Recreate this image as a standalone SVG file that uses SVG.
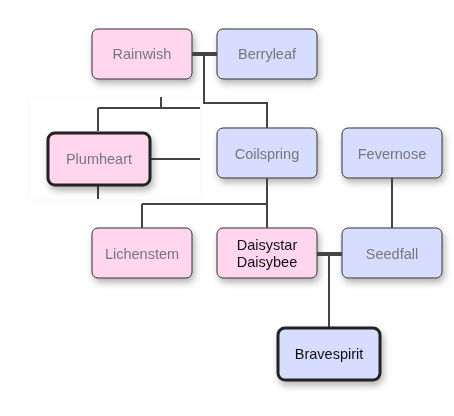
<svg xmlns="http://www.w3.org/2000/svg" width="454" height="416" viewBox="0 0 454 416">
<defs>
<filter id="sh" x="-20%" y="-20%" width="150%" height="160%">
<feDropShadow dx="2" dy="4" stdDeviation="3.5" flood-color="#000" flood-opacity="0.3"/>
</filter>
<filter id="sh2" x="-20%" y="-20%" width="140%" height="140%">
<feDropShadow dx="0" dy="1" stdDeviation="3" flood-color="#000" flood-opacity="0.035"/>
</filter>
</defs>
<style>
.node rect{stroke:#333;stroke-width:1}
.f{fill:#ffd6ee}
.m{fill:#d6ddff}
.bold rect{stroke:#222;stroke-width:3}
text{font-family:"Liberation Sans",Arial,sans-serif;font-size:14.5px;text-anchor:middle;fill:#777}
.dark text{fill:#111}
.links path{fill:none;stroke:#444;stroke-width:2}
.links .cpl{stroke-width:4}
</style>
<rect width="454" height="416" fill="#fff"/>
<g id="Rainwish" class="node" filter="url(#sh)"><rect class="f" x="92" y="29" width="100" height="50" rx="6"/><text x="142" y="59">Rainwish</text></g>
<g id="Berryleaf" class="node" filter="url(#sh)"><rect class="m" x="217" y="29" width="100" height="50" rx="6"/><text x="267" y="59">Berryleaf</text></g>
<rect id="patch" x="30" y="97" width="170" height="102" fill="#fff" filter="url(#sh2)"/>
<g id="Coilspring" class="node" filter="url(#sh)"><rect class="m" x="217" y="128" width="100" height="50" rx="6"/><text x="267" y="159">Coilspring</text></g>
<g id="Fevernose" class="node" filter="url(#sh)"><rect class="m" x="342" y="128" width="100" height="50" rx="6"/><text x="392" y="159">Fevernose</text></g>
<g id="Lichenstem" class="node" filter="url(#sh)"><rect class="f" x="92" y="228" width="100" height="50" rx="6"/><text x="142" y="259">Lichenstem</text></g>
<g id="Daisystar" class="node dark" filter="url(#sh)"><rect class="f" x="217" y="228" width="100" height="50" rx="6"/><text x="267" y="250">Daisystar</text><text x="267" y="267">Daisybee</text></g>
<g id="Seedfall" class="node" filter="url(#sh)"><rect class="m" x="342" y="228" width="100" height="50" rx="6"/><text x="392" y="259">Seedfall</text></g>
<g class="links">
<path class="cpl" d="M192 54H217"/>
<path d="M204 54V103H267V128"/>
<path d="M161 97V108M98 108H200M98 108V131"/>
<path d="M151 159H200"/>
<path d="M98 186V199"/>
<path d="M267 178V228M142 204H267M142 204V228"/>
<path d="M392 178V228"/>
<path class="cpl" d="M317 254H342"/>
<path d="M329 254V328"/>
</g>
<g id="Plumheart" class="node bold" filter="url(#sh)"><rect class="f" x="48" y="133" width="102" height="52" rx="7"/><text x="99" y="164">Plumheart</text></g>
<g id="Bravespirit" class="node bold dark" filter="url(#sh)"><rect class="m" x="278" y="328" width="102" height="52" rx="7"/><text x="329" y="359">Bravespirit</text></g>
</svg>
